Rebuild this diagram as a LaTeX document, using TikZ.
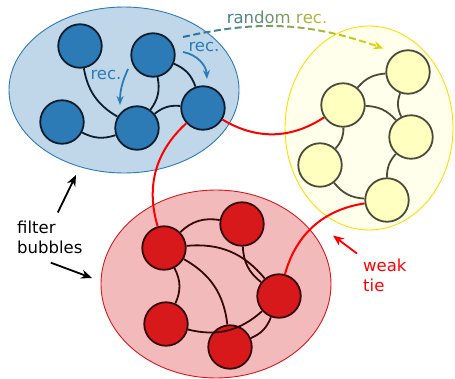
\documentclass[tikz,border=0pt]{standalone}
\usepackage{fontspec}
\setmainfont{DejaVu Sans}
\usetikzlibrary{
    arrows.meta,
    shapes.geometric,
    calc
}
\definecolor{BubbleBlue}{RGB}{44,123,182}
\definecolor{BubbleRed}{RGB}{215,25,28}
\definecolor{BubbleYellow}{RGB}{255,255,191}
\definecolor{RimYellow}{RGB}{255,221,0}
\definecolor{InkBlue}{RGB}{12,30,45}
\definecolor{InkRed}{RGB}{55,8,8}
\definecolor{InkYellow}{RGB}{75,75,58}
\definecolor{TieRed}{RGB}{255,0,0}
\definecolor{RndStart}{RGB}{40,115,165}
\definecolor{RndEnd}{RGB}{245,220,0}
\tikzset{
    bubble/.style={ellipse, inner sep=0pt, line width=0.9pt},
    member/.style={circle, inner sep=0pt, minimum size=43.5pt, line width=1.8pt},
    bluemember/.style={member, fill=BubbleBlue, draw=InkBlue},
    yellowmember/.style={member, fill=BubbleYellow, draw=InkYellow},
    redmember/.style={member, fill=BubbleRed, draw=InkRed},
    bluelink/.style={line width=1.8pt, draw=InkBlue},
    yellowlink/.style={line width=1.8pt, draw=InkYellow},
    redlink/.style={line width=1.8pt, draw=InkRed},
    tie/.style={line width=2pt, draw=TieRed},
    caption/.style={font=\fontsize{16.5}{20}\selectfont, align=left, inner sep=0pt},
    pointer/.style={-{Stealth[length=11pt,width=9pt]}, line width=1.8pt},
    recarrow/.style={-{Stealth[length=9pt,width=7pt]}, line width=1.8pt, draw=BubbleBlue},
    randrec/.style={-{Stealth[length=10pt,width=8pt]}, line width=2pt, dash pattern=on 7pt off 3.5pt}
}

\begin{document}
\begin{tikzpicture}[x=1pt, y=1pt]
    \useasboundingbox (0,0) rectangle (455,-378);
    % bubbles
    \node[bubble, fill=BubbleBlue!30, draw=BubbleBlue, minimum width=230pt, minimum height=166pt] (bluebub) at (124,-90) {};
    \node[bubble, fill=BubbleYellow!30, draw=RimYellow, minimum width=168pt, minimum height=204pt] (yellowbub) at (369,-128) {};
    \node[bubble, fill=BubbleRed!30, draw=BubbleRed, minimum width=230pt, minimum height=188pt] (redbub) at (216,-284) {};
    % members
    \node[bluemember] (b1) at (80,-46) {};
    \node[bluemember] (b2) at (153,-55) {};
    \node[bluemember] (b3) at (62,-122) {};
    \node[bluemember] (b4) at (137,-128) {};
    \node[bluemember] (b5) at (203,-108) {};
    \node[yellowmember] (y1) at (408,-72) {};
    \node[yellowmember] (y2) at (343,-105) {};
    \node[yellowmember] (y3) at (411,-137) {};
    \node[yellowmember] (y4) at (320,-165) {};
    \node[yellowmember] (y5) at (387,-200) {};
    \node[redmember] (r1) at (164,-248) {};
    \node[redmember] (r2) at (242,-224) {};
    \node[redmember] (r3) at (279,-296) {};
    \node[redmember] (r4) at (166,-324) {};
    \node[redmember] (r5) at (230,-347) {};
    % links inside the bubbles
    \draw[bluelink] (b1) to[bend right=25] (b4);
    \draw[bluelink] (b3) to[bend right=23] (b4);
    \draw[bluelink] (b2) to[bend left=24] (b4);
    \draw[bluelink] (b4) to[bend left=22] (b5);
    \draw[bluelink] (b2) to[bend left=24] (b5);
    \draw[yellowlink] (y2) to[bend left=23] (y1);
    \draw[yellowlink] (y1) to[bend right=23] (y3);
    \draw[yellowlink] (y2) to[bend left=23] (y3);
    \draw[yellowlink] (y2) to[bend left=22] (y4);
    \draw[yellowlink] (y4) to[bend right=24] (y5);
    \draw[yellowlink] (y3) to[bend right=21] (y5);
    \draw[redlink] (r1) to[bend left=27] (r2);
    \draw[redlink] (r1) to[bend left=28] (r3);
    \draw[redlink] (r1) to[bend left=27] (r5);
    \draw[redlink] (r1) to[bend left=26] (r4);
    \draw[redlink] (r2) to[bend right=25] (r3);
    \draw[redlink] (r4) to[bend right=28] (r3);
    \draw[redlink] (r5) to[bend right=23] (r3);
    % weak ties
    \draw[tie] (b5) to[bend right=32] (y2);
    \draw[tie] (b5) to[bend right=32] (r1);
    \draw[tie] (y5) to[bend right=33] (r3);
    % recommendations
    \node[caption, text=BubbleBlue, anchor=base] (recA) at (106,-79) {rec.};
    \node[caption, text=BubbleBlue, anchor=base] (recB) at (204,-51) {rec.};
    \coordinate (recAfrom) at (128,-69);
    \coordinate (recAto) at (120,-105);
    \coordinate (recBfrom) at (183,-52);
    \coordinate (recBto) at (207,-79);
    \draw[recarrow] (recAfrom) to[bend right=12] (recAto);
    \draw[recarrow] (recBfrom) to[bend left=38] (recBto);
    \node[caption, anchor=base] (rnd) at (277,-23.3) {\textcolor{RndEnd!10!RndStart}{r}\textcolor{RndEnd!16!RndStart}{a}\textcolor{RndEnd!22!RndStart}{n}\textcolor{RndEnd!28!RndStart}{d}\textcolor{RndEnd!34!RndStart}{o}\textcolor{RndEnd!40!RndStart}{m} \textcolor{RndEnd!56!RndStart}{r}\textcolor{RndEnd!62!RndStart}{e}\textcolor{RndEnd!68!RndStart}{c}\textcolor{RndEnd!72!RndStart}{.}};
    \coordinate (rndFrom) at (183,-37);
    \coordinate (rndTo) at (383.5,-48.5);
    \foreach \k in {0,...,21}{
        \pgfmathtruncatemacro{\mix}{100*\k/21}
        \begin{scope}
            \clip (180+10*\k,-5) rectangle ++(10,-55);
            \draw[randrec, draw=RndEnd!\mix!RndStart] (rndFrom) to[bend left=16] (rndTo);
        \end{scope}
    }
    % labels
    \node[caption, anchor=north west] (fb) at (17,-220.5) {filter\\bubbles};
    \node[caption, anchor=north west, text=TieRed] (wt) at (363,-258.5) {weak\\tie};
    \coordinate (fbTipBlue) at (76,-175);
    \coordinate (fbTipRed) at (92,-278);
    \coordinate (wtTip) at (333,-235.5);
    \draw[pointer] ([shift={(8,8)}]fb.north) -- (fbTipBlue);
    \draw[pointer] ([shift={(1,-9)}]fb.south) -- (fbTipRed);
    \draw[pointer, draw=TieRed, fill=TieRed] ([shift={(-6,5)}]wt.north west) -- (wtTip);
\end{tikzpicture}
\end{document}
